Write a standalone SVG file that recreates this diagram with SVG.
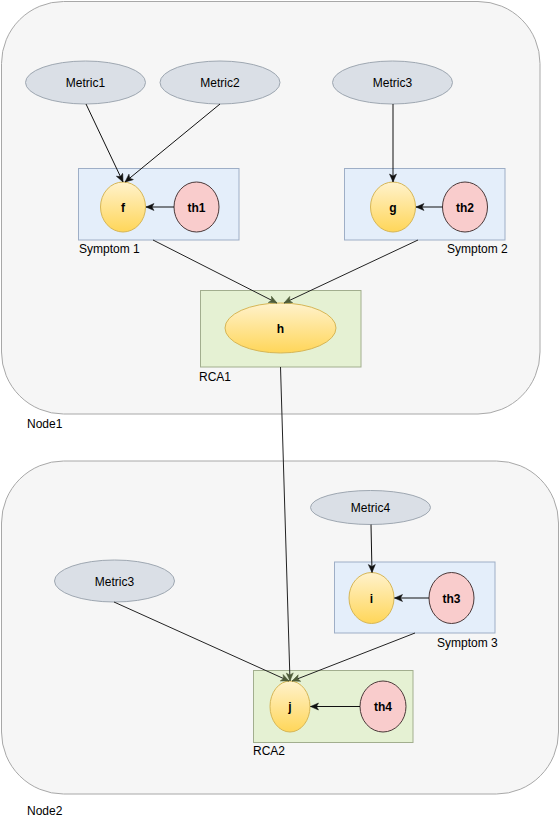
<svg xmlns="http://www.w3.org/2000/svg" width="560" height="821" viewBox="0 0 560 821">
<style>
text{font-family:"Liberation Sans",Arial,sans-serif;font-size:12px;fill:#000}
.c{text-anchor:middle}
.b{font-weight:bold}
.cont{fill:#f6f6f6;stroke:#a8a8a8;stroke-width:1}
.metric{fill:#dadfe6;stroke:#9ea7b1;stroke-width:1}
.sym{fill:#e4eefa;stroke:#9eaec6;stroke-width:1}
.rca{fill:#e5f1d3;stroke:#a2ae8e;stroke-width:1}
.y{fill:url(#yg);stroke:#d6b656;stroke-width:1}
.th{fill:#f9cccc;stroke:#4a3838;stroke-width:1}
.e{fill:none;stroke:#111;stroke-width:1;marker-end:url(#ah)}
.eg{fill:none;stroke:#222;stroke-width:1;marker-end:url(#ahg)}
</style>
<defs>
<linearGradient id="yg" x1="0" y1="0" x2="0" y2="1">
<stop offset="0" stop-color="#fff2cc"/>
<stop offset="1" stop-color="#ffd659"/>
</linearGradient>
<marker id="ah" markerUnits="userSpaceOnUse" markerWidth="10" markerHeight="10" refX="9" refY="4" orient="auto">
<path d="M1,0.5 L9,4 L1,7.5 L3,4 Z" fill="#111" stroke="#111" stroke-width="0.5"/>
</marker>
<marker id="ahg" markerUnits="userSpaceOnUse" markerWidth="10" markerHeight="10" refX="9" refY="4" orient="auto">
<path d="M1,0.5 L9,4 L1,7.5 L3,4 Z" fill="#4e5c38" stroke="#4e5c38" stroke-width="0.5"/>
</marker>
</defs>

<g id="node1">
<rect class="cont" x="1.5" y="1.5" width="538.5" height="412.5" rx="62" ry="62"/>
<text x="27" y="428">Node1</text>
</g>
<g id="node2">
<rect class="cont" x="1.5" y="461" width="557" height="333" rx="62" ry="62"/>
<text x="27" y="815">Node2</text>
</g>

<g id="symptom1">
<rect class="sym" x="78.5" y="168.5" width="160.5" height="71.5"/>
<text x="79" y="253">Symptom 1</text>
</g>
<g id="symptom2">
<rect class="sym" x="344.5" y="168.5" width="160.5" height="71.5"/>
<text x="447" y="253">Symptom 2</text>
</g>
<g id="rca1">
<rect class="rca" x="200.5" y="290.5" width="160.5" height="76.5"/>
<text x="199" y="381">RCA1</text>
</g>
<g id="symptom3">
<rect class="sym" x="334.5" y="562" width="160.5" height="71"/>
<text x="437" y="647">Symptom 3</text>
</g>
<g id="rca2">
<rect class="rca" x="253.5" y="670.5" width="159.5" height="72"/>
<text x="253" y="755">RCA2</text>
</g>

<g id="metric1">
<ellipse class="metric" cx="85.5" cy="82.5" rx="60" ry="21.5"/>
<text class="c" x="85.5" y="87">Metric1</text>
</g>
<g id="metric2">
<ellipse class="metric" cx="220" cy="82.5" rx="60" ry="21.5"/>
<text class="c" x="220" y="87">Metric2</text>
</g>
<g id="metric3a">
<ellipse class="metric" cx="392.5" cy="82.5" rx="60" ry="21.5"/>
<text class="c" x="392.5" y="87">Metric3</text>
</g>
<g id="metric4">
<ellipse class="metric" cx="370.5" cy="507.5" rx="60" ry="17"/>
<text class="c" x="370.5" y="512">Metric4</text>
</g>
<g id="metric3b">
<ellipse class="metric" cx="114.5" cy="581" rx="60" ry="21"/>
<text class="c" x="114.5" y="585.5">Metric3</text>
</g>

<g id="f">
<ellipse class="y" cx="123" cy="207" rx="22.5" ry="25"/>
<text class="c b" x="123" y="211.5">f</text>
</g>
<g id="th1">
<ellipse class="th" cx="196.5" cy="207" rx="22.5" ry="25"/>
<text class="c b" x="196.5" y="211.5">th1</text>
</g>
<g id="g">
<ellipse class="y" cx="393" cy="207" rx="22.5" ry="25"/>
<text class="c b" x="393" y="211.5">g</text>
</g>
<g id="th2">
<ellipse class="th" cx="465" cy="207" rx="22.5" ry="25"/>
<text class="c b" x="465" y="211.5">th2</text>
</g>
<g id="h">
<ellipse class="y" cx="280.5" cy="328" rx="55.5" ry="25"/>
<text class="c b" x="280.5" y="332.5">h</text>
</g>
<g id="i">
<ellipse class="y" cx="371.5" cy="598" rx="22.5" ry="25.5"/>
<text class="c b" x="371.5" y="602.5">i</text>
</g>
<g id="th3">
<ellipse class="th" cx="451.5" cy="598" rx="22.5" ry="25.5"/>
<text class="c b" x="451.5" y="602.5">th3</text>
</g>
<g id="j">
<ellipse class="y" cx="290" cy="706.5" rx="20" ry="25.5"/>
<text class="c b" x="290" y="711">j</text>
</g>
<g id="th4">
<ellipse class="th" cx="383" cy="706.5" rx="23" ry="25.5"/>
<text class="c b" x="383" y="711">th4</text>
</g>

<g id="connectors">
<line class="e" x1="86" y1="104" x2="123" y2="182"/>
<line class="e" x1="220" y1="104" x2="125" y2="182"/>
<line class="e" x1="393" y1="104" x2="393" y2="182"/>
<line class="e" x1="174" y1="207" x2="146" y2="207"/>
<line class="e" x1="442.5" y1="207" x2="416" y2="207"/>
<line class="eg" x1="153" y1="240" x2="277" y2="303"/>
<line class="eg" x1="418" y1="240" x2="284" y2="303"/>
<line class="eg" x1="280.5" y1="367" x2="290" y2="681"/>
<line class="e" x1="371" y1="524.5" x2="372" y2="572.5"/>
<line class="e" x1="429" y1="598" x2="394.5" y2="598"/>
<line class="eg" x1="114" y1="602" x2="289" y2="681"/>
<line class="eg" x1="415" y1="633" x2="292" y2="681"/>
<line class="e" x1="360" y1="706.5" x2="310.5" y2="706.5"/>
</g>
</svg>
